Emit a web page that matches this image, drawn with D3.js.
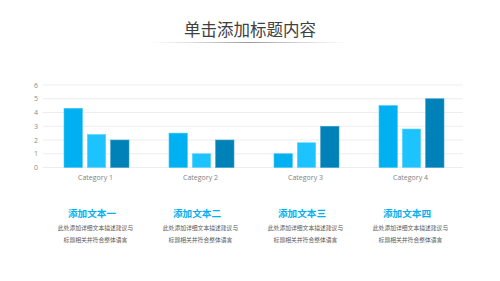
<!DOCTYPE html>
<html><head><meta charset="utf-8">
<script src="https://cdn.jsdelivr.net/npm/d3@7"></script>
<style>body{margin:0;background:#fff}svg{display:block}</style>
</head><body><svg id="c" width="500" height="281"></svg>
<script>
const categories = ["Category 1","Category 2","Category 3","Category 4"];
const series1 = [4.3, 2.5, 1.0, 4.5];
const series2 = [2.4, 1.0, 1.8, 2.8];
const series3 = [2.0, 2.0, 3.0, 5.0];
const yTicks = [0,1,2,3,4,5,6];
const title = "单击添加标题内容";
const headings = ["添加文本一","添加文本二","添加文本三","添加文本四"];
const descLine1 = "此处添加详细文本描述建议与";
const descLine2 = "标题相关并符合整体语言";

const svg = d3.select("#c");
const cjk = "'Noto Sans CJK SC','Noto Sans',sans-serif";
const colors = ["#00B0F0","#1CC3FF","#0082B8"];
const strokes = ["#40C8F8","#5CD5FF","#3AA0CC"];

// title
svg.append("text").attr("x",250).attr("y",36).attr("text-anchor","middle")
  .attr("font-family",cjk).attr("font-size",16.5).attr("fill","#404040").text(title);
const grad = svg.append("defs").append("linearGradient").attr("id","g");
grad.append("stop").attr("offset","0%").attr("stop-color","#bbb").attr("stop-opacity",0);
grad.append("stop").attr("offset","50%").attr("stop-color","#999").attr("stop-opacity",1);
grad.append("stop").attr("offset","100%").attr("stop-color","#bbb").attr("stop-opacity",0);
svg.append("rect").attr("x",150).attr("y",42).attr("width",200).attr("height",1).attr("fill","url(#g)");

// scales
const x0 = d3.scaleBand().domain(categories).range([43,463]).paddingInner(0).paddingOuter(0);
const y = d3.scaleLinear().domain([0,6]).range([167.5,85]);
const groupW = 65, barW = 18.4, gap = 4.9;

// grid
svg.append("g").selectAll("line").data(yTicks).join("line")
  .attr("x1",43).attr("x2",463).attr("y1",d=>y(d)).attr("y2",d=>y(d))
  .attr("stroke","#e8e8e8").attr("stroke-width",0.8);
svg.append("g").selectAll("text").data(yTicks).join("text")
  .attr("x",36).attr("y",d=>y(d)+2.5).attr("text-anchor","middle")
  .attr("font-family","'Open Sans',sans-serif").attr("font-size",7).attr("fill","#8c8c8c").text(d=>d);

const all = [series1,series2,series3];
all.forEach((s,i)=>{
  svg.append("g").selectAll("rect").data(s).join("rect")
    .attr("x",(d,j)=>x0(categories[j])+x0.bandwidth()/2 - groupW/2 + 1 + i*(barW+gap))
    .attr("y",d=>y(d)).attr("width",barW).attr("height",d=>y(0)-y(d))
    .attr("fill",colors[i]).attr("stroke",strokes[i]).attr("stroke-width",0.6);
});

// category labels
svg.append("g").selectAll("text").data(categories).join("text")
  .attr("x",d=>x0(d)+x0.bandwidth()/2).attr("y",179.5).attr("text-anchor","middle")
  .attr("font-family","'Open Sans',sans-serif").attr("font-size",7).attr("fill","#7f7f7f").text(d=>d);

// text blocks
const centers = categories.map(d=>x0(d)+x0.bandwidth()/2);
const g = svg.append("g").selectAll("g").data(headings).join("g")
  .attr("transform",(d,i)=>`translate(${centers[i]},0)`);
g.append("text").attr("x",-3.5).attr("y",216.5).attr("text-anchor","middle").attr("font-family",cjk)
  .attr("font-size",9.6).attr("font-weight","bold").attr("fill","#00B0F0").text(d=>d);
g.append("text").attr("y",230).attr("text-anchor","middle").attr("font-family",cjk)
  .attr("font-size",5.8).attr("fill","#595959").text(descLine1);
g.append("text").attr("y",242).attr("text-anchor","middle").attr("font-family",cjk)
  .attr("font-size",5.8).attr("fill","#595959").text(descLine2);
</script></body></html>
